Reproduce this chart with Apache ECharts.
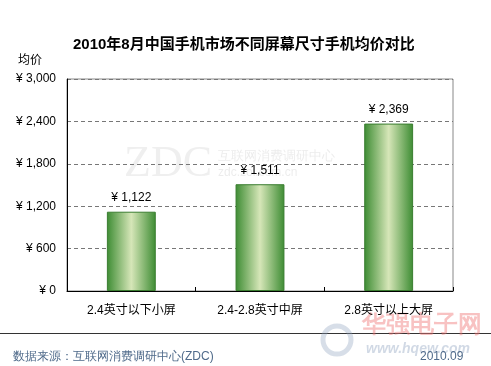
<!DOCTYPE html>
<html><head><meta charset="utf-8">
<script src="https://cdn.jsdelivr.net/npm/echarts@6/dist/echarts.min.js"></script>
<style>html,body{margin:0;padding:0;background:#fff}#c{width:491px;height:366px}</style>
</head><body><div id="c"></div>
<script>
var categories = ['2.4英寸以下小屏', '2.4-2.8英寸中屏', '2.8英寸以上大屏'];
var values = [1122, 1511, 2369];
var yTicks = [0, 600, 1200, 1800, 2400, 3000];

function fmt(v){ return '¥ ' + v.toLocaleString('en-US'); }

var chart = echarts.init(document.getElementById('c'));
chart.setOption({
  animation: false,
  backgroundColor: '#fff',
  textStyle: {fontFamily: 'Arial, "Noto Sans CJK SC", sans-serif'},
  title: {
    text: '2010年8月中国手机市场不同屏幕尺寸手机均价对比',
    left: 68, top: 32,
    textStyle: {fontSize: 15, fontWeight: 'bold', color: '#000', fontFamily: 'Arial, "Noto Sans CJK SC", sans-serif'}
  },
  grid: {left: 67, right: 38, top: 79, bottom: 75, show: true, borderColor: '#888', borderWidth: 1},
  xAxis: {
    type: 'category', data: categories,
    axisLine: {lineStyle: {color: '#000', width: 1}},
    axisTick: {show: true, inside: true, length: 4, lineStyle: {color: '#000'}},
    axisLabel: {color: '#000', fontSize: 12, margin: 14}
  },
  yAxis: {
    type: 'value', min: yTicks[0], max: yTicks[yTicks.length-1], interval: 600,
    name: '均价', nameLocation: 'end', nameGap: 12,
    nameTextStyle: {color: '#000', fontSize: 12, align: 'right', padding: [0, 25, 0, 0], verticalAlign: 'bottom'},
    axisLine: {show: true, lineStyle: {color: '#000', width: 1}},
    axisTick: {show: false},
    axisLabel: {color: '#000', fontSize: 12, margin: 11, formatter: function(v){ return fmt(v); }},
    splitLine: {lineStyle: {color: '#777', type: [4, 3]}}
  },
  series: [{
    type: 'bar', data: values, barWidth: '38%',
    itemStyle: {
      color: new echarts.graphic.LinearGradient(0, 0, 1, 0, [
        {offset: 0, color: '#3d8c33'},
        {offset: 0.5, color: '#d6e6b8'},
        {offset: 1, color: '#3d8c33'}
      ]),
      borderColor: '#3a7d30', borderWidth: 1
    },
    label: {show: true, position: 'top', distance: 8, color: '#000', fontSize: 12, formatter: function(p){ return fmt(p.value); }}
  }],
  graphic: [
    {type: 'text', left: 124, top: 142, silent: true, z: 0,
     style: {text: 'ZDC', fontSize: 44, fontFamily: 'Times New Roman, Liberation Serif, serif', fill: 'rgba(150,150,150,0.15)'}},
    {type: 'text', left: 218, top: 150, silent: true, z: 0,
     style: {text: '互联网消费调研中心', fontSize: 13, fill: 'rgba(150,150,150,0.18)'}},
    {type: 'text', left: 218, top: 167, silent: true, z: 0,
     style: {text: 'zdc.zol.com.cn', fontSize: 12, fill: 'rgba(150,150,150,0.18)'}},
    {type: 'line', shape: {x1: 0, y1: 333.5, x2: 491, y2: 333.5}, style: {stroke: '#333', lineWidth: 1}},
    {type: 'circle', shape: {cx: 337, cy: 340, r: 14}, silent: true,
     style: {fill: 'none', stroke: 'rgba(140,160,190,0.35)', lineWidth: 5}},
    {type: 'text', left: 362, top: 313, silent: true,
     style: {text: '华强电子网', fontSize: 24, fontWeight: 'bold', fill: 'rgba(240,120,120,0.45)'}},
    {type: 'text', left: 366, top: 342, silent: true,
     style: {text: 'www.hqew.com', fontSize: 14, fontWeight: 'bold', fontStyle: 'italic', fill: 'rgba(140,160,190,0.4)'}},
    {type: 'text', left: 13, top: 351,
     style: {text: '数据来源：互联网消费调研中心(ZDC)', fontSize: 12, fill: '#4f6a8a'}},
    {type: 'text', left: 420, top: 351,
     style: {text: '2010.09', fontSize: 12, fill: '#4f6a8a'}}
  ]
});
</script></body></html>
